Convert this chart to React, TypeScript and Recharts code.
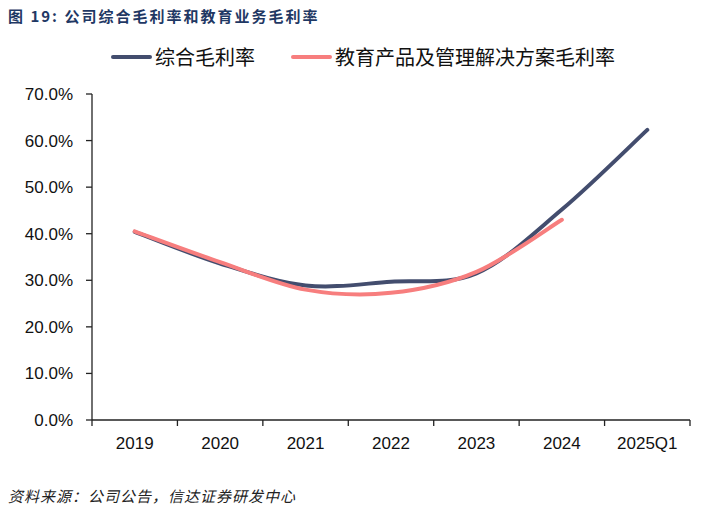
import * as React from 'react';
import { LineChart, Line, XAxis, YAxis } from 'recharts';

const categories = ['2019', '2020', '2021', '2022', '2023', '2024', '2025Q1'];
const totalMargin = [40.4, 33.6, 28.9, 29.7, 31.5, 45.2, 62.3];
const eduMargin = [40.5, 33.9, 28.0, 27.3, 31.8, 43.0, null];
const yTicks = [0, 10, 20, 30, 40, 50, 60, 70];

const NAVY = '#434d6e';
const PINK = '#f77e7e';
const FONT = '"Liberation Sans", Arial, "Noto Sans CJK SC", sans-serif';
const CJK = '"Noto Sans CJK SC", "Liberation Sans", sans-serif';

const data = categories.map((name, i) => ({
  x: i + 0.5,
  name,
  total: totalMargin[i],
  edu: eduMargin[i],
}));

const xTicks: number[] = [];
for (let i = 0; i <= categories.length * 2; i++) xTicks.push(i / 2);

// Catmull-Rom style smoothing, close to the spreadsheet's "smoothed line"
function smoothCurve(context: any) {
  let pts: number[][] = [];
  return {
    areaStart() {},
    areaEnd() {},
    lineStart() {
      pts = [];
    },
    point(x: number, y: number) {
      pts.push([+x, +y]);
    },
    lineEnd() {
      const n = pts.length;
      if (!n) return;
      context.moveTo(pts[0][0], pts[0][1]);
      if (n === 1) {
        context.lineTo(pts[0][0], pts[0][1]);
        return;
      }
      for (let i = 0; i < n - 1; i++) {
        const p0 = pts[i - 1] || pts[i];
        const p1 = pts[i];
        const p2 = pts[i + 1];
        const p3 = pts[i + 2] || p2;
        context.bezierCurveTo(
          p1[0] + (p2[0] - p0[0]) / 6,
          p1[1] + (p2[1] - p0[1]) / 6,
          p2[0] - (p3[0] - p1[0]) / 6,
          p2[1] - (p3[1] - p1[1]) / 6,
          p2[0],
          p2[1],
        );
      }
    },
  };
}

function XTick(props: any) {
  const { x, y, payload } = props;
  const v = payload.value;
  if (Number.isInteger(v)) {
    return <line x1={x} x2={x} y1={y} y2={y + 6} stroke="#222" strokeWidth={1.3} />;
  }
  return (
    <text x={x} y={y + 29} textAnchor="middle" fontSize={17} fontFamily={FONT} fill="#111">
      {categories[Math.floor(v)]}
    </text>
  );
}

function LegendItem({ color, label, left }: { color: string; label: string; left: number }) {
  return (
    <div style={{ position: 'absolute', left, top: 44, display: 'flex', alignItems: 'center' }}>
      <div style={{ width: 41, height: 4, borderRadius: 2, background: color, marginRight: 3 }} />
      <span style={{ fontSize: 20, fontFamily: CJK, color: '#111', lineHeight: '26px' }}>{label}</span>
    </div>
  );
}

export default function App() {
  return (
    <div style={{ position: 'relative', width: 719, height: 509, background: '#fff', overflow: 'hidden' }}>
      <style>{'body{margin:0}'}</style>
      <div
        style={{
          position: 'absolute',
          left: 8,
          top: 5,
          fontSize: 15,
          fontWeight: 'bold',
          color: '#1f3864',
          fontFamily: CJK,
          letterSpacing: 2,
          whiteSpace: 'nowrap',
        }}
      >
        图 19: 公司综合毛利率和教育业务毛利率
      </div>
      <LegendItem color={NAVY} label="综合毛利率" left={111} />
      <LegendItem color={PINK} label="教育产品及管理解决方案毛利率" left={291} />
      <div style={{ position: 'absolute', left: 0, top: 0 }}>
        <LineChart width={719} height={509} data={data} margin={{ top: 94, right: 29, bottom: 49, left: 12 }}>
          <XAxis
            dataKey="x"
            type="number"
            domain={[0, categories.length]}
            ticks={xTicks}
            interval={0}
            tickLine={false}
            tickSize={0}
            tickMargin={0}
            height={40}
            axisLine={{ stroke: '#222', strokeWidth: 1.3 }}
            tick={<XTick />}
          />
          <YAxis
            type="number"
            domain={[0, 70]}
            ticks={yTicks}
            interval={0}
            width={80}
            tickSize={6}
            tickMargin={13}
            tickFormatter={(v: number) => v.toFixed(1) + '%'}
            axisLine={{ stroke: '#222', strokeWidth: 1.3 }}
            tickLine={{ stroke: '#222', strokeWidth: 1.3 }}
            tick={{ fontSize: 17, fontFamily: FONT, fill: '#111' }}
          />
          <Line
            type={smoothCurve as any}
            dataKey="total"
            stroke={NAVY}
            strokeWidth={4}
            strokeLinecap="round"
            dot={false}
            isAnimationActive={false}
          />
          <Line
            type={smoothCurve as any}
            dataKey="edu"
            stroke={PINK}
            strokeWidth={4}
            strokeLinecap="round"
            dot={false}
            isAnimationActive={false}
          />
        </LineChart>
      </div>
      <div
        style={{
          position: 'absolute',
          left: 8,
          top: 485,
          fontSize: 15,
          fontStyle: 'italic',
          color: '#222',
          fontFamily: CJK,
          letterSpacing: 1,
          whiteSpace: 'nowrap',
        }}
      >
        资料来源：公司公告，信达证券研发中心
      </div>
    </div>
  );
}
